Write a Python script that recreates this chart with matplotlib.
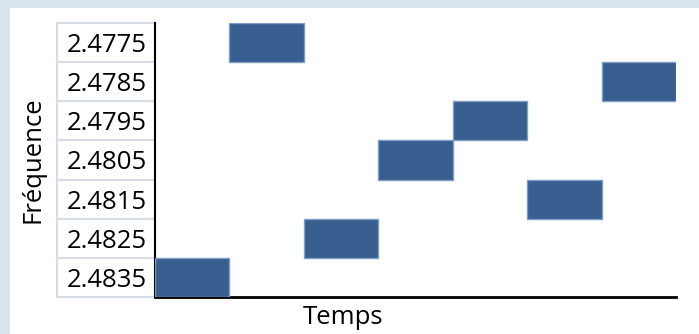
import matplotlib.pyplot as plt
import matplotlib.patches as mpatches
import matplotlib.transforms as mtransforms

# frequency hopping sequence: one slot per time step
freq_labels = ['2.4775', '2.4785', '2.4795', '2.4805', '2.4815', '2.4825', '2.4835']
hop_sequence = ['2.4835', '2.4775', '2.4825', '2.4805', '2.4795', '2.4815', '2.4785']

W, H = 699, 334
fig = plt.figure(figsize=(W / 100, H / 100), dpi=100)
fig.patch.set_facecolor('#d9e3ed')

# white panel
fig.patches.append(mpatches.Rectangle((10 / W, 0), 1, (H - 8) / H, transform=fig.transFigure,
                                      facecolor='white', edgecolor='none', zorder=-1))

ax = fig.add_axes([155 / W, (H - 297) / H, 521 / W, 274 / H])
ax.set_zorder(2)
ax.set_facecolor('none')

for t, f in enumerate(hop_sequence):
    ax.barh(freq_labels.index(f), 1, left=t, height=1, color='#375e8f',
            edgecolor='#7f9dc2', linewidth=1, zorder=3)

ax.set_xlim(0, len(hop_sequence))
ax.set_ylim(len(freq_labels) - 0.5, -0.5)
ax.set_xticks([])
ax.set_yticks(range(len(freq_labels)))
ax.set_yticklabels(freq_labels, fontsize=18.5, family='Open Sans')
ax.tick_params(axis='y', length=0, pad=6)

for s in ['top', 'right']:
    ax.spines[s].set_visible(False)
ax.spines['left'].set_linewidth(1.5)
ax.spines['bottom'].set_linewidth(2)

# table-like grid behind the frequency labels
trans = mtransforms.blended_transform_factory(ax.transAxes, ax.transData)
x0 = -98 / 521
for i in range(len(freq_labels) + 1):
    ax.plot([x0, 0], [i - 0.5, i - 0.5], transform=trans, color='#d6dde8',
            lw=1.5, clip_on=False, zorder=1)
ax.plot([x0, x0], [-0.5, len(freq_labels) - 0.5], transform=trans, color='#d6dde8',
        lw=1.5, clip_on=False, zorder=1)

fig.text(33 / W, 1 - 160 / H, 'Fréquence', rotation=90, ha='center', va='center',
         fontsize=18.5, family='Open Sans')
fig.text(343 / W, 1 - 318 / H, 'Temps', ha='center', va='center',
         fontsize=18.5, family='Open Sans')

fig.savefig('out.png', dpi=100)
